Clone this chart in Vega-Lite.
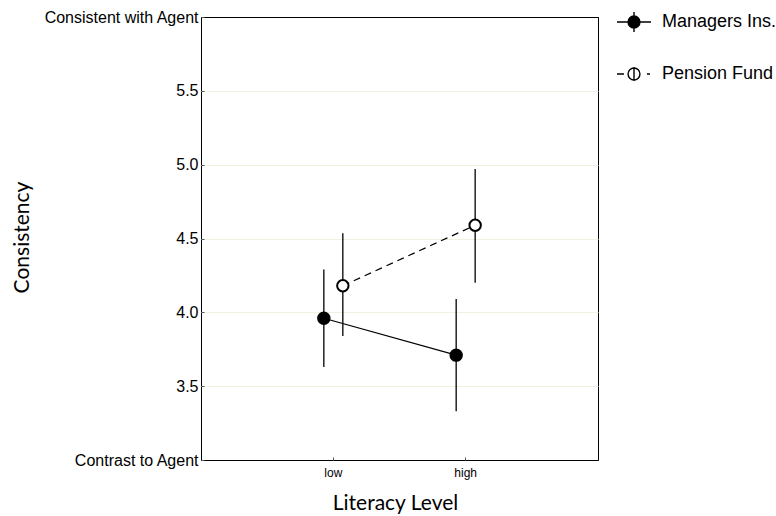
{
  "$schema": "https://vega.github.io/schema/vega-lite/v6.json",
  "width": 397,
  "height": 443,
  "autosize": {"type": "none"},
  "padding": {"left": 201, "top": 17, "right": 178, "bottom": 56},
  "background": "white",
  "config": {
    "view": {"stroke": "black", "strokeWidth": 1},
    "axis": {"labelColor": "black", "titleColor": "black", "domain": false}
  },
  "data": {
    "values": [
      {"group": "Managers Ins.", "level": "low", "mean": 3.96, "lo": 3.63, "hi": 4.29},
      {"group": "Managers Ins.", "level": "high", "mean": 3.71, "lo": 3.33, "hi": 4.09},
      {"group": "Pension Fund", "level": "low", "mean": 4.18, "lo": 3.84, "hi": 4.535},
      {"group": "Pension Fund", "level": "high", "mean": 4.59, "lo": 4.2, "hi": 4.97}
    ]
  },
  "encoding": {
    "x": {
      "field": "level",
      "type": "nominal",
      "sort": ["low", "high"],
      "scale": {"type": "band", "domain": ["low", "high"], "paddingInner": 0.713, "paddingOuter": 0.8565},
      "title": "Literacy Level",
      "axis": {
        "labelAngle": 0,
        "labelFont": "Liberation Sans",
        "labelFontSize": 12,
        "labelPadding": 10,
        "tickSize": -3,
        "tickColor": "#555555",
        "grid": false,
        "titleFont": "Lato",
        "titleFontSize": 21,
        "titleFontWeight": "normal",
        "titleX": 194,
        "titleY": 43,
        "titleBaseline": "middle"
      }
    },
    "xOffset": {
      "field": "group",
      "type": "nominal",
      "scale": {"domain": ["Managers Ins.", "Pension Fund"], "paddingInner": 0, "paddingOuter": 0}
    }
  },
  "layer": [
    {
      "mark": {"type": "rule", "color": "black", "strokeWidth": 1.3},
      "encoding": {
        "y": {
          "field": "lo",
          "type": "quantitative",
          "scale": {"domain": [3, 6], "nice": false, "zero": false},
          "title": "Consistency",
          "axis": {
            "values": [3, 3.5, 4, 4.5, 5, 5.5, 6],
            "labelExpr": "datum.value == 3 ? 'Contrast to Agent' : datum.value == 6 ? 'Consistent with Agent' : format(datum.value, '.1f')",
            "labelFlush": false,
            "labelFont": "Liberation Sans",
            "labelFontSize": 16,
            "labelPadding": 6,
            "tickSize": -3,
            "tickColor": "#555555",
            "grid": true,
            "gridColor": {"condition": {"test": "datum.value == 3 || datum.value == 6", "value": "black"}, "value": "#f1f1df"},
            "gridWidth": 1,
            "titleFont": "Lato",
            "titleFontSize": 21,
            "titleFontWeight": "normal",
            "titleAngle": -90,
            "titleX": -179,
            "titleY": 220,
            "titleAlign": "center",
            "titleBaseline": "middle"
          }
        },
        "y2": {"field": "hi"}
      }
    },
    {
      "transform": [{"filter": "datum.group == 'Managers Ins.'"}],
      "mark": {"type": "line", "color": "black", "strokeWidth": 1.2},
      "encoding": {
        "y": {"field": "mean", "type": "quantitative"}
      }
    },
    {
      "transform": [{"filter": "datum.group == 'Pension Fund'"}],
      "mark": {"type": "line", "color": "black", "strokeWidth": 1.2, "strokeDash": [7, 5]},
      "encoding": {
        "y": {"field": "mean", "type": "quantitative"}
      }
    },
    {
      "mark": {"type": "point", "shape": "circle", "filled": true, "stroke": "black", "strokeWidth": 2, "size": 130, "opacity": 1},
      "encoding": {
        "y": {"field": "mean", "type": "quantitative"},
        "fill": {
          "field": "group",
          "type": "nominal",
          "scale": {"domain": ["Managers Ins.", "Pension Fund"], "range": ["black", "white"]}
        }
      }
    },
    {
      "transform": [{"filter": "false"}],
      "mark": {"type": "point", "filled": true, "stroke": "black", "strokeWidth": 1.4, "opacity": 1},
      "encoding": {
        "y": {"field": "mean", "type": "quantitative"},
        "fill": {
          "field": "group",
          "type": "nominal",
          "legend": {
            "title": null,
            "orient": "none",
            "legendX": 415,
            "legendY": -13,
            "padding": 0,
            "symbolSize": 1156,
            "symbolStrokeWidth": 1.4,
            "symbolStrokeColor": "black",
            "rowPadding": 21,
            "labelFont": "Liberation Sans",
            "labelFontSize": 18,
            "labelColor": "black",
            "labelOffset": 10
          }
        },
        "shape": {
          "field": "group",
          "type": "nominal",
          "scale": {
            "domain": ["Managers Ins.", "Pension Fund"],
            "range": [
              "M-1,0L1,0M0,-0.59L0,0.59M-0.35,0A0.35,0.35,0,1,0,0.35,0A0.35,0.35,0,1,0,-0.35,0Z",
              "M-1,0L-0.59,0M0.76,0L0.94,0M0,-0.41L0,0.41M-0.35,0A0.35,0.35,0,1,0,0.35,0A0.35,0.35,0,1,0,-0.35,0Z"
            ]
          },
          "legend": {
            "title": null,
            "orient": "none",
            "legendX": 415,
            "legendY": -13,
            "padding": 0,
            "symbolSize": 1156,
            "symbolStrokeWidth": 1.4,
            "symbolStrokeColor": "black",
            "rowPadding": 21,
            "labelFont": "Liberation Sans",
            "labelFontSize": 18,
            "labelColor": "black",
            "labelOffset": 10
          }
        }
      }
    }
  ]
}
